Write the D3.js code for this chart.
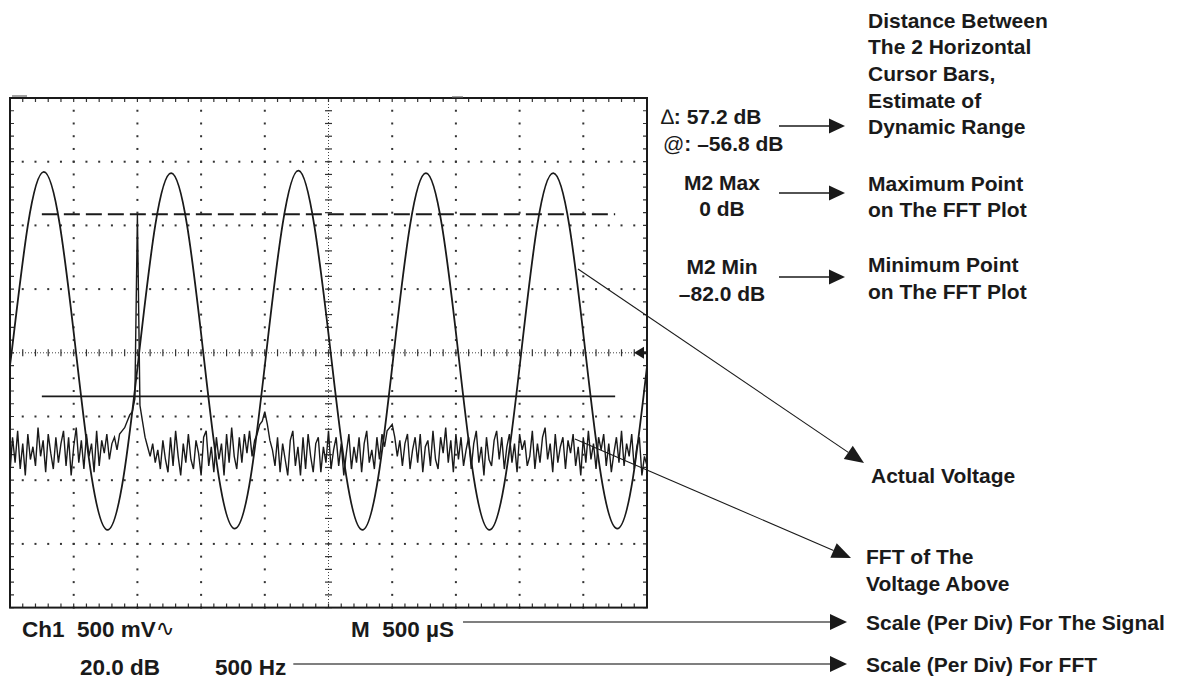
<!DOCTYPE html>
<html>
<head>
<meta charset="utf-8">
<script src="https://cdn.jsdelivr.net/npm/d3@7"></script>
<style>
  html, body { margin: 0; padding: 0; background: #fff; }
  svg { display: block; }
  .lbl { font-family: "Liberation Sans", Arial, sans-serif; font-weight: bold; font-size: 21px; fill: #1a1a1a; white-space: pre; }
  .lbl.big { font-size: 22.5px; }
</style>
</head>
<body>
<div class="chart"></div>
<script>
// Ch1 trace, volts, one reading every 0.125 ms starting at t = -0.11 ms
var sigStart = -0.11, sigStep = 0.125;
var sigVolts = [
  -0.98,
   0.02, 1.00, 1.42, 1.01, 0.03, -0.97, -1.39, -0.98,
   0.01, 1.00, 1.41, 1.00, 0.02, -0.98, -1.38, -0.97,
   0.03, 1.01, 1.43, 0.99, 0.02, -0.97, -1.39, -0.98,
   0.02, 1.00, 1.41, 1.00, 0.03, -0.98, -1.39, -0.97,
   0.02, 1.01, 1.41, 1.00, 0.02, -0.97, -1.38, -0.98,
   0.02, 1.00
];

// FFT trace, dB, one reading every 20 Hz starting at 0 Hz
var fftStep = 20;
var fftDb = [
  -81, -70, -78, -68, -80, -72, -82, -69, -77, -73,
  -79, -67, -76, -71, -81, -69, -75, -80, -70, -78,
  -72, -68, -79, -70, -82, -73, -67, -78, -71, -80,
  -69, -76, -72, -81, -68, -79, -71, -75, -69, -77,
  -72, -70, -74, -69, -68, -67, -65, -63, -62, -58,
    0, -60, -65, -70, -73, -76, -72, -78, -74, -80,
  -71, -77, -81, -70, -79, -68, -76, -82, -72, -78,
  -69, -77, -80, -71, -75, -82, -70, -68, -79, -73,
  -81, -70, -77, -72, -82, -69, -78, -67, -76, -80,
  -70, -78, -69, -75, -68, -76, -71, -69, -66, -65,
  -62, -66, -71, -74, -79, -70, -81, -72, -77, -82,
  -71, -68, -79, -73, -82, -70, -80, -69, -76, -81,
  -72, -70, -81, -73, -78, -68, -80, -74, -70, -79,
  -72, -82, -75, -69, -80, -73, -78, -70, -81, -72,
  -68, -78, -74, -80, -70, -77, -69, -73, -68, -67,
  -66, -70, -76, -71, -79, -72, -69, -80, -74, -70,
  -78, -69, -81, -73, -71, -79, -68, -77, -80, -70,
  -75, -67, -78, -71, -81, -69, -77, -70, -79, -74,
  -70, -80, -72, -68, -78, -73, -82, -70, -77, -79,
  -71, -68, -77, -70, -80, -73, -69, -78, -72, -81,
  -69, -74, -71, -79, -76, -68, -80, -72, -78, -70,
  -67, -77, -72, -81, -69, -78, -73, -70, -80, -71,
  -75, -69, -79, -73, -82, -70, -78, -68, -77, -72,
  -80, -70, -74, -69, -79, -72, -81, -75, -70, -78,
  -68, -79, -72, -76, -69, -80, -73, -70, -82, -76,
  -79
];

// horizontal cursors (dB) and their span (Hz)
var cursorDb = [0, -57.2];
var cursorHz = [250, 4750];

// readouts and notes
var cursorText = ["\u2206", ": 57.2 dB", "@", ": \u201356.8 dB"];
var maxText = ["M2 Max", "0 dB"];
var minText = ["M2 Min", "\u201382.0 dB"];
var noteCursor = ["Distance Between", "The 2 Horizontal", "Cursor Bars,", "Estimate of", "Dynamic Range"];
var noteMax = ["Maximum Point", "on The FFT Plot"];
var noteMin = ["Minimum Point", "on The FFT Plot"];
var noteSig = ["Actual Voltage"];
var noteFft = ["FFT of The", "Voltage Above"];
var chText = "Ch1  500 mV", timeText = "M  500 \u00b5S";
var dbText = "20.0 dB", hzText = "500 Hz";
var noteTime = "Scale (Per Div) For The Signal", noteHz = "Scale (Per Div) For FFT";

var W = 1181, H = 681;
var plot = {left: 10, right: 647, top: 98, bottom: 607.6};
var nx = 10, ny = 8, nsub = 5;
var ink = "#1a1a1a";

var svg = d3.select(".chart").append("svg").attr("width", W).attr("height", H);

var gx = d3.scaleLinear().domain([0, nx]).range([plot.left, plot.right]);
var gy = d3.scaleLinear().domain([0, ny]).range([plot.top, plot.bottom]);

var xTime = d3.scaleLinear().domain([0, 5]).range([plot.left, plot.right]);       // 500 us/div
var yVolt = d3.scaleLinear().domain([-2, 2]).range([plot.bottom, plot.top]);      // 500 mV/div
var xFreq = d3.scaleLinear().domain([0, 5000]).range([plot.left, plot.right]);    // 500 Hz/div
var yDb = d3.scaleLinear().domain([-123.5, 36.5]).range([plot.bottom, plot.top]); // 20 dB/div

// graticule
var grid = svg.append("g");
var minorX = d3.range(0, nx * nsub + 1).map(function(d) { return d / nsub; });
var minorY = d3.range(0, ny * nsub + 1).map(function(d) { return d / nsub; });
var rows = d3.range(1, ny).filter(function(d) { return d !== ny / 2; });
var cols = d3.range(1, nx).filter(function(d) { return d !== nx / 2; });

rows.forEach(function(r) {
  grid.selectAll(null).data(minorX).enter().append("rect")
    .attr("x", function(d) { return gx(d) - 1; }).attr("y", gy(r) - 1)
    .attr("width", 2).attr("height", 2).attr("fill", "#333");
});
cols.forEach(function(c) {
  grid.selectAll(null).data(minorY).enter().append("rect")
    .attr("x", gx(c) - 1).attr("y", function(d) { return gy(d) - 1; })
    .attr("width", 2).attr("height", 2).attr("fill", "#333");
});

// centre cross, fine dots plus sub-division ticks
grid.append("line").attr("x1", plot.left).attr("x2", plot.right)
  .attr("y1", gy(ny / 2)).attr("y2", gy(ny / 2))
  .attr("stroke", "#444").attr("stroke-width", 1).attr("stroke-dasharray", "1,2");
grid.append("line").attr("y1", plot.top).attr("y2", plot.bottom)
  .attr("x1", gx(nx / 2)).attr("x2", gx(nx / 2))
  .attr("stroke", "#444").attr("stroke-width", 1).attr("stroke-dasharray", "1,2");
grid.selectAll(null).data(minorX).enter().append("line")
  .attr("x1", function(d) { return gx(d); }).attr("x2", function(d) { return gx(d); })
  .attr("y1", gy(ny / 2) - 3.5).attr("y2", gy(ny / 2) + 3.5)
  .attr("stroke", "#333").attr("stroke-width", 1.2);
grid.selectAll(null).data(minorY).enter().append("line")
  .attr("y1", function(d) { return gy(d); }).attr("y2", function(d) { return gy(d); })
  .attr("x1", gx(nx / 2) - 3.5).attr("x2", gx(nx / 2) + 3.5)
  .attr("stroke", "#333").attr("stroke-width", 1.2);

// edge ticks
grid.selectAll(null).data(minorX).enter().append("path")
  .attr("d", function(d) { return "M" + gx(d) + "," + plot.top + "v4M" + gx(d) + "," + plot.bottom + "v-4"; })
  .attr("stroke", "#333").attr("stroke-width", 1.2);
grid.selectAll(null).data(minorY).enter().append("path")
  .attr("d", function(d) { return "M" + plot.left + "," + gy(d) + "h4M" + plot.right + "," + gy(d) + "h-4"; })
  .attr("stroke", "#333").attr("stroke-width", 1.2);

svg.append("rect")
  .attr("x", plot.left).attr("y", plot.top)
  .attr("width", plot.right - plot.left).attr("height", plot.bottom - plot.top)
  .attr("fill", "none").attr("stroke", ink).attr("stroke-width", 2);

// small markers on the top edge
svg.append("line").attr("x1", 12).attr("x2", 27).attr("y1", 96).attr("y2", 96)
  .attr("stroke", "#666").attr("stroke-width", 1.2);
svg.append("line").attr("x1", 452).attr("x2", 463).attr("y1", 97).attr("y2", 97)
  .attr("stroke", "#666").attr("stroke-width", 1.2);

svg.append("clipPath").attr("id", "clip").append("rect")
  .attr("x", plot.left).attr("y", plot.top)
  .attr("width", plot.right - plot.left).attr("height", plot.bottom - plot.top);

var traces = svg.append("g").attr("clip-path", "url(#clip)");

// cursors
traces.append("line")
  .attr("x1", xFreq(cursorHz[0])).attr("x2", xFreq(cursorHz[1]))
  .attr("y1", yDb(cursorDb[0])).attr("y2", yDb(cursorDb[0]))
  .attr("stroke", ink).attr("stroke-width", 2).attr("stroke-dasharray", "16,6");
traces.append("line")
  .attr("x1", xFreq(cursorHz[0])).attr("x2", xFreq(cursorHz[1]))
  .attr("y1", yDb(cursorDb[1])).attr("y2", yDb(cursorDb[1]))
  .attr("stroke", ink).attr("stroke-width", 1.8);

var fftLine = d3.line()
  .x(function(d, i) { return xFreq(i * fftStep); })
  .y(function(d) { return yDb(d); });
traces.append("path").datum(fftDb).attr("d", fftLine)
  .attr("fill", "none").attr("stroke", ink).attr("stroke-width", 1.4).attr("stroke-linejoin", "miter");

var sigLine = d3.line()
  .x(function(d, i) { return xTime(sigStart + i * sigStep); })
  .y(function(d) { return yVolt(d); })
  .curve(d3.curveNatural);
traces.append("path").datum(sigVolts).attr("d", sigLine)
  .attr("fill", "none").attr("stroke", ink).attr("stroke-width", 1.8);

// ground reference marker on the right edge
var gy0 = yVolt(0);
svg.append("path")
  .attr("d", "M" + (plot.right - 13) + "," + gy0 + "L" + (plot.right - 3) + "," + (gy0 - 6) + "L" + (plot.right - 3) + "," + (gy0 + 6) + "Z")
  .attr("fill", ink);
svg.append("line").attr("x1", plot.right - 6).attr("x2", plot.right).attr("y1", gy0).attr("y2", gy0)
  .attr("stroke", ink).attr("stroke-width", 3);

// arrows
function arrow(x1, y1, x2, y2, len, half, color, sw) {
  var a = Math.atan2(y2 - y1, x2 - x1);
  var bx = x2 - len * Math.cos(a), by = y2 - len * Math.sin(a);
  svg.append("line").attr("x1", x1).attr("y1", y1).attr("x2", bx).attr("y2", by)
    .attr("stroke", color).attr("stroke-width", sw);
  var px = -Math.sin(a) * half, py = Math.cos(a) * half;
  svg.append("path")
    .attr("d", "M" + x2 + "," + y2 + "L" + (bx + px) + "," + (by + py) + "L" + (bx - px) + "," + (by - py) + "Z")
    .attr("fill", ink);
}

// text
function label(x, y, s, anchor, cls) {
  return svg.append("text").attr("class", "lbl" + (cls ? " " + cls : ""))
    .attr("x", x).attr("y", y).attr("dy", "0.36em")
    .attr("text-anchor", anchor || "start").text(s);
}
function block(x, y0, step, lines) {
  lines.forEach(function(s, i) { label(x, y0 + i * step, s); });
}
function rightEnd(t) { return t.node().getBBox().x + t.node().getBBox().width; }

var t1 = svg.append("text").attr("class", "lbl").attr("x", 661).attr("y", 116).attr("dy", "0.36em");
t1.append("tspan").attr("font-weight", "normal").text(cursorText[0]);
t1.append("tspan").text(cursorText[1]);
var t2 = svg.append("text").attr("class", "lbl").attr("x", 663).attr("y", 143).attr("dy", "0.36em");
t2.append("tspan").attr("font-weight", "normal").text(cursorText[2]);
t2.append("tspan").text(cursorText[3]);

label(722, 182, maxText[0], "middle");
label(722, 208, maxText[1], "middle");
label(722, 266, minText[0], "middle");
label(722, 293, minText[1], "middle");

block(868, 20, 26.7, noteCursor);
block(868, 183, 26.5, noteMax);
block(868, 264.5, 26.5, noteMin);
block(871, 475, 26.7, noteSig);
block(866, 556, 27, noteFft);
label(866, 622, noteTime);
label(866, 664, noteHz);

var ch = label(22, 629, chText, "start", "big");
ch.append("tspan").attr("font-family", "DejaVu Sans").attr("font-weight", "normal").attr("dy", "-0.05em").text("\u223f");
var tm = label(351, 629, timeText, "start", "big");
label(80, 667, dbText, "start", "big");
var hz = label(215, 667, hzText, "start", "big");

arrow(779, 126, 845, 126, 16, 7.5, ink, 1.6);
arrow(779, 193, 845, 193, 16, 7.5, ink, 1.6);
arrow(779, 277, 845, 277, 16, 7.5, ink, 1.6);
arrow(578, 269, 864, 463, 19, 8, ink, 1.1);
arrow(575, 439, 851, 558, 19, 8, ink, 1.1);
arrow(rightEnd(tm) + 9, 622, 847, 622, 17, 8, "#555", 1.6);
arrow(rightEnd(hz) + 7, 664, 847, 664, 17, 8, "#555", 1.6);
</script>
</body>
</html>
